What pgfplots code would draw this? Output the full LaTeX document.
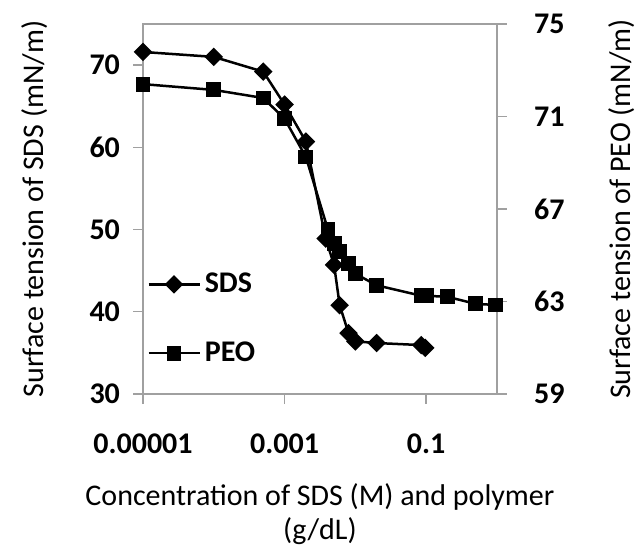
\documentclass[border=0pt]{standalone}
\usepackage{pgfplots}
\pgfplotsset{compat=1.18}
\usepackage{fontspec}
\setmainfont{Carlito}
\definecolor{axgray}{RGB}{160,160,160}

\pgfplotstableread{
x y
1e-5 71.6
1e-4 71.0
5e-4 69.2
1e-3 65.2
2e-3 60.7
3.8e-3 48.9
5e-3 45.7
6e-3 40.8
8e-3 37.4
0.01 36.4
0.02 36.2
0.085 35.95
0.097 35.6
}\sds

\pgfplotstableread{
x y
1e-5 72.4
1e-4 72.15
5e-4 71.8
1e-3 70.9
2e-3 69.25
4.1e-3 66.1
5e-3 65.5
6e-3 65.15
8e-3 64.65
0.01 64.2
0.02 63.7
0.085 63.25
0.1 63.25
0.2 63.2
0.5 62.9
0.95 62.85
}\peo

\begin{document}
\begin{tikzpicture}
\path[use as bounding box] (-71.5pt,-76pt) rectangle (246.5pt,197pt);
\pgfplotsset{
  every axis/.append style={
    scale only axis, width=177pt, height=185pt,
    at={(0,0)}, anchor=south west,
    xmode=log, log basis x=10, xmin=1e-5, xmax=1,
    xminorticks=false,
    axis line style={axgray, line width=0.7pt},
    tick style={axgray, line width=0.7pt},
    major tick length=5pt,
    tick align=outside,
    ticklabel style={font=\fontsize{15}{17}\selectfont\bfseries, black},
    label style={font=\fontsize{15}{17}\selectfont},
    /pgf/number format/assume math mode=true,
  },
  sdsstyle/.style={black, line width=1.25pt, mark=square*, mark size=2.65pt, mark options={rotate=45, solid}},
  peostyle/.style={black, line width=1.25pt, mark=square*, mark size=3.1pt, mark options={solid}},
}
\begin{axis}[
  ymin=30, ymax=75, ytick={30,40,50,60,70},
  xtick={1e-5,1e-3,1e-1}, xticklabels={0.00001,0.001,0.1},
  xtick pos=bottom, ytick pos=left,
  yticklabel style={xshift=-3pt},
  xticklabel style={anchor=center, yshift=-20pt},
  xlabel={Concentration of SDS (M) and polymer\\(g/dL)},
  xlabel style={align=center, at={(rel axis cs:0.5,0)}, anchor=center, yshift=-60pt},
  ylabel={Surface tension of SDS (mN/m)},
  ylabel style={at={(rel axis cs:0,0.5)}, anchor=center, yshift=54pt},
]
\addplot[sdsstyle] table {\sds};
\end{axis}
\begin{axis}[
  ymin=59, ymax=75, ytick={59,63,67,71,75},
  axis y line*=right, axis x line=none,
  yticklabel style={xshift=10pt},
  ylabel={Surface tension of PEO (mN/m)},
  ylabel style={at={(rel axis cs:1,0.5)}, anchor=center, yshift=-62.5pt},
  legend style={at={(rel axis cs:0.011,0.068)}, anchor=south west, draw=none, fill=none,
    font=\fontsize{15}{17}\selectfont\bfseries, row sep=19pt, inner sep=0pt},
  legend cell align=left,
  legend image code/.code={\draw[mark repeat=2,mark phase=2,#1] plot coordinates {(0pt,0pt)(12.75pt,0pt)(25.5pt,0pt)};},
]
\addlegendimage{sdsstyle}
\addlegendentry{SDS}
\addplot[peostyle] table {\peo};
\addlegendentry{PEO}
\end{axis}
\end{tikzpicture}
\end{document}
